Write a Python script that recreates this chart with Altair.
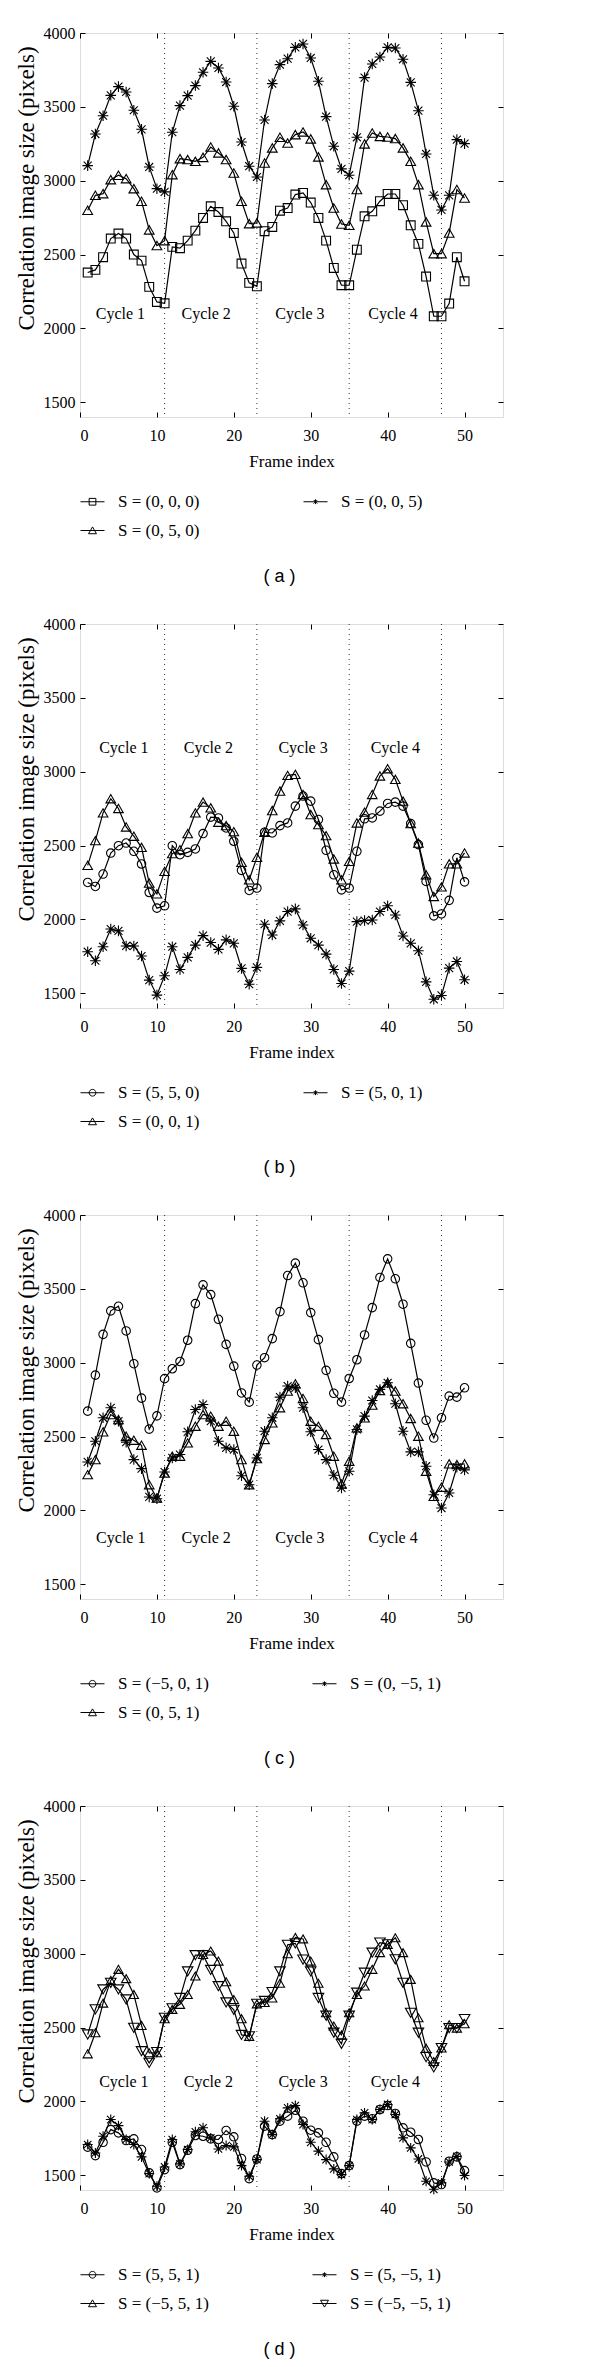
import altair as alt
import pandas as pd

SERIF = "Liberation Serif"
SANS = "Liberation Sans"

frames = list(range(1, 51))
boundaries = [11, 23, 35, 47]
cycle_labels = ["Cycle 1", "Cycle 2", "Cycle 3", "Cycle 4"]
x_ticks = [0, 10, 20, 30, 40, 50]
y_ticks = [1500, 2000, 2500, 3000, 3500, 4000]

# ---------------- panel (a) ----------------
a_s000 = [2378, 2396, 2482, 2608, 2642, 2608, 2500, 2459, 2281, 2179,
          2170, 2552, 2543, 2594, 2662, 2748, 2827, 2788, 2725, 2646,
          2439, 2308, 2285, 2658, 2687, 2797, 2815, 2906, 2917, 2852,
          2748, 2594, 2409, 2292, 2292, 2533, 2759, 2793, 2861, 2910,
          2910, 2834, 2698, 2572, 2351, 2082, 2082, 2168, 2482, 2319]
a_s050 = [2800, 2901, 2912, 3007, 3037, 3014, 2946, 2861, 2667, 2561,
          2594, 3041, 3149, 3143, 3131, 3158, 3228, 3188, 3143, 3052,
          2861, 2709, 2714, 3120, 3222, 3294, 3255, 3312, 3330, 3283,
          3161, 2973, 2815, 2707, 2698, 2940, 3249, 3323, 3300, 3296,
          3285, 3222, 3131, 2973, 2721, 2506, 2506, 2646, 2940, 2883]
a_s005 = [3102, 3316, 3440, 3578, 3637, 3601, 3477, 3348, 3093, 2946,
          2924, 3328, 3508, 3576, 3644, 3734, 3808, 3763, 3668, 3504,
          3262, 3098, 3025, 3411, 3657, 3786, 3826, 3903, 3926, 3831,
          3673, 3434, 3233, 3080, 3037, 3294, 3698, 3790, 3838, 3903,
          3898, 3822, 3666, 3474, 3181, 2901, 2802, 2901, 3278, 3251]
a_cycle_x = [5.25, 16.4, 28.6, 40.7]
a_cycle_y = 2100

# ---------------- panel (b) ----------------
b_s550 = [2250, 2223, 2307, 2449, 2499, 2517, 2461, 2375, 2182, 2076,
          2092, 2499, 2438, 2454, 2477, 2581, 2692, 2687, 2619, 2529,
          2332, 2196, 2212, 2590, 2585, 2635, 2653, 2767, 2835, 2801,
          2676, 2468, 2302, 2200, 2212, 2461, 2681, 2687, 2733, 2785,
          2794, 2767, 2649, 2506, 2257, 2024, 2037, 2129, 2417, 2254]
b_s001 = [2366, 2533, 2721, 2817, 2751, 2626, 2563, 2488, 2246, 2173,
          2325, 2445, 2472, 2581, 2721, 2794, 2755, 2658, 2635, 2594,
          2386, 2268, 2420, 2590, 2737, 2869, 2975, 2982, 2846, 2710,
          2642, 2567, 2409, 2268, 2393, 2653, 2726, 2846, 2971, 3020,
          2948, 2801, 2649, 2517, 2302, 2155, 2220, 2376, 2376, 2450]
b_s501 = [1781, 1720, 1815, 1935, 1922, 1820, 1820, 1752, 1589, 1487,
          1618, 1815, 1661, 1743, 1826, 1890, 1843, 1797, 1861, 1838,
          1668, 1561, 1675, 1967, 1894, 1990, 2053, 2071, 1962, 1872,
          1826, 1765, 1661, 1566, 1650, 1985, 1992, 1996, 2053, 2092,
          2030, 1888, 1838, 1788, 1577, 1459, 1485, 1670, 1715, 1591]
b_cycle_x = [5.7, 16.7, 29.0, 41.0]
b_cycle_y = 3163

# ---------------- panel (c) ----------------
c_sm501 = [2672, 2916, 3192, 3351, 3382, 3215, 2993, 2760, 2550, 2640,
           2892, 2959, 3008, 3152, 3400, 3527, 3461, 3294, 3124, 2977,
           2795, 2733, 2984, 3034, 3163, 3346, 3590, 3674, 3541, 3339,
           3156, 2948, 2793, 2733, 2893, 3020, 3188, 3373, 3577, 3703,
           3568, 3396, 3131, 2862, 2610, 2490, 2627, 2774, 2767, 2830]
c_s051 = [2242, 2344, 2532, 2649, 2615, 2502, 2475, 2441, 2174, 2084,
          2253, 2367, 2367, 2457, 2570, 2649, 2638, 2570, 2604, 2536,
          2344, 2174, 2351, 2480, 2593, 2695, 2808, 2857, 2758, 2604,
          2570, 2514, 2367, 2179, 2333, 2559, 2627, 2713, 2812, 2864,
          2808, 2722, 2622, 2502, 2265, 2095, 2157, 2315, 2310, 2315]
c_s0m51 = [2328, 2468, 2627, 2695, 2604, 2462, 2344, 2283, 2091, 2079,
           2260, 2355, 2378, 2532, 2683, 2717, 2604, 2468, 2423, 2412,
           2235, 2174, 2355, 2536, 2627, 2767, 2842, 2830, 2695, 2532,
           2412, 2344, 2238, 2152, 2265, 2548, 2638, 2744, 2819, 2864,
           2722, 2536, 2396, 2396, 2299, 2106, 2016, 2118, 2292, 2274]
c_cycle_x = [5.3, 16.4, 28.6, 40.7]
c_cycle_y = 1815

# ---------------- panel (d) ----------------
d_s551 = [1690, 1633, 1723, 1809, 1787, 1735, 1746, 1674, 1516, 1414,
          1538, 1723, 1572, 1669, 1769, 1764, 1746, 1742, 1803, 1760,
          1613, 1477, 1610, 1832, 1775, 1866, 1900, 1940, 1866, 1805,
          1787, 1723, 1624, 1511, 1565, 1866, 1900, 1882, 1945, 1972,
          1918, 1821, 1791, 1742, 1590, 1448, 1437, 1595, 1624, 1531]
d_s5m51 = [1708, 1651, 1764, 1877, 1836, 1742, 1708, 1624, 1511, 1425,
           1556, 1742, 1577, 1674, 1794, 1821, 1753, 1678, 1701, 1692,
           1565, 1493, 1606, 1866, 1775, 1882, 1956, 1972, 1843, 1723,
           1663, 1606, 1543, 1504, 1565, 1877, 1922, 1877, 1945, 1979,
           1911, 1753, 1685, 1610, 1459, 1405, 1448, 1590, 1628, 1498]
d_sm551 = [2322, 2465, 2665, 2819, 2894, 2831, 2724, 2514, 2329, 2329,
           2560, 2623, 2657, 2724, 2849, 2995, 3018, 2950, 2810, 2690,
           2560, 2440, 2660, 2670, 2700, 2800, 3000, 3110, 3100, 2950,
           2800, 2600, 2510, 2450, 2600, 2724, 2781, 2894, 3007, 3063,
           3108, 3007, 2826, 2566, 2360, 2270, 2361, 2519, 2496, 2526]
d_sm5m51 = [2453, 2623, 2758, 2803, 2758, 2690, 2498, 2340, 2261, 2334,
            2566, 2630, 2700, 2880, 2990, 2990, 2890, 2780, 2670, 2620,
            2450, 2440, 2660, 2680, 2740, 2880, 3060, 3070, 2960, 2880,
            2700, 2580, 2465, 2390, 2580, 2736, 2871, 3007, 3075, 3063,
            2962, 2803, 2600, 2465, 2300, 2230, 2361, 2496, 2496, 2557]
d_cycle_x = [5.7, 16.7, 29.0, 41.0]
d_cycle_y = 2132

# ---------------- marker styles ----------------
STAR = "M-1,0L1,0M0,-1L0,1M-0.75,-0.75L0.75,0.75M-0.75,0.75L0.75,-0.75"
DATA_SHAPE = {"square": "square", "tri": "triangle-up", "tridown": "triangle-down",
              "circle": "circle", "star": STAR}
DATA_SIZE = {"square": 78, "tri": 112, "tridown": 112, "circle": 72, "star": 64}
DATA_SW = {"square": 1.1, "tri": 1.1, "tridown": 1.1, "circle": 1.1, "star": 1.7}
LEG_SHAPE = {
    "square": "M-1,0H1M-0.28,-0.28H0.28V0.28H-0.28Z",
    "tri": "M-1,0H1M0,-0.3L0.33,0.27L-0.33,0.27Z",
    "tridown": "M-1,0H1M0,0.3L0.33,-0.27L-0.33,-0.27Z",
    "circle": "M-1,0H1M0.28,0A0.28,0.28,0,1,1,-0.28,0A0.28,0.28,0,1,1,0.28,0Z",
    "star": "M-1,0H1M0,-0.2V0.2M-0.15,-0.15L0.15,0.15M-0.15,0.15L0.15,-0.15",
}

INWARD = {"expr": "-5"}
XS = alt.Scale(domain=[0, 55], nice=False, zero=False)
YS = alt.Scale(domain=[1400, 4000], nice=False, zero=False)


def axis(orient, **kw):
    base = dict(orient=orient, grid=False, domain=False, tickSize=INWARD,
                tickColor="black", tickWidth=1, labelFont=SERIF, labelFontSize=16,
                labelColor="black", titleFont=SERIF, titleColor="black",
                titleFontWeight="normal")
    base.update(kw)
    return alt.Axis(**base)


AX_BOTTOM = axis("bottom", values=x_ticks, labelPadding=15, title="Frame index",
                 titleFontSize=17, titlePadding=10, format="d")
AX_LEFT = axis("left", values=y_ticks, labelPadding=10,
               title="Correlation image size (pixels)", titleFontSize=23,
               titlePadding=5, titleY=155, format="d")
AX_TOP = axis("top", values=x_ticks, labels=False, title=None)
AX_RIGHT = axis("right", values=y_ticks, labels=False, title=None)


def panel(series, cyc_x, cyc_y, caption):
    rows = []
    for label, vals, kind in series:
        for f, v in zip(frames, vals):
            rows.append({"frame": f, "value": v, "series": label})
    df = pd.DataFrame(rows)
    order = [s[0] for s in series]
    kinds = [s[2] for s in series]

    rules = alt.Chart(pd.DataFrame({"b": boundaries})).mark_rule(
        color="#333333", strokeWidth=1, strokeDash=[1, 4]
    ).encode(x=alt.X("b:Q", scale=XS, axis=AX_TOP))

    lines = alt.Chart(df).mark_line(color="black", strokeWidth=1.2).encode(
        x=alt.X("frame:Q", scale=XS, axis=AX_BOTTOM),
        y=alt.Y("value:Q", scale=YS, axis=AX_LEFT),
        detail="series:N",
    )

    points = alt.Chart(df).mark_point(filled=False, color="black", opacity=1).encode(
        x=alt.X("frame:Q", scale=XS, axis=None),
        y=alt.Y("value:Q", scale=YS, axis=None),
        shape=alt.Shape("series:N", legend=None,
                        scale=alt.Scale(domain=order, range=[DATA_SHAPE[k] for k in kinds])),
        size=alt.Size("series:N", legend=None,
                      scale=alt.Scale(domain=order, range=[DATA_SIZE[k] for k in kinds])),
        strokeWidth=alt.StrokeWidth("series:N", legend=None,
                                    scale=alt.Scale(domain=order, range=[DATA_SW[k] for k in kinds])),
    )

    cyc = pd.DataFrame({"cx": cyc_x, "cy": [cyc_y] * 4, "label": cycle_labels})
    texts = alt.Chart(cyc).mark_text(font=SERIF, fontSize=16, color="black",
                                     baseline="middle", align="center").encode(
        x=alt.X("cx:Q", scale=XS, axis=None),
        y=alt.Y("cy:Q", scale=YS, axis=AX_RIGHT),
        text="label:N",
    )

    legend_layer = alt.Chart(df).transform_filter("false").mark_point(
        filled=False, color="black", opacity=1, strokeWidth=1
    ).encode(
        shape=alt.Shape("series:N",
                        scale=alt.Scale(domain=order, range=[LEG_SHAPE[k] for k in kinds]),
                        legend=alt.Legend(title=None, orient="none", legendX=0, legendY=456,
                                          columns=2, columnPadding=101, rowPadding=8,
                                          symbolSize=576, symbolStrokeWidth=1,
                                          symbolStrokeColor="black",
                                          symbolFillColor="transparent",
                                          labelFont=SERIF, labelFontSize=17,
                                          labelColor="black", labelOffset=13,
                                          padding=0, labelLimit=300)),
    )

    return alt.layer(rules, lines, points, texts, legend_layer).resolve_scale(
        shape="independent", size="independent", strokeWidth="independent"
    ).resolve_axis(x="independent", y="independent").properties(
        width=423, height=384,
        title=alt.TitleParams(caption, orient="bottom", font=SANS, fontSize=18,
                              fontWeight="normal", color="black", offset=29,
                              anchor="middle", frame="group", dx=-12),
    )


# legend entries are listed column by column (first column, then second)
pa = panel([("S = (0, 0, 0)", a_s000, "square"),
            ("S = (0, 5, 0)", a_s050, "tri"),
            ("S = (0, 0, 5)", a_s005, "star")], a_cycle_x, a_cycle_y, "( a )")
pb = panel([("S = (5, 5, 0)", b_s550, "circle"),
            ("S = (0, 0, 1)", b_s001, "tri"),
            ("S = (5, 0, 1)", b_s501, "star")], b_cycle_x, b_cycle_y, "( b )")
pc = panel([("S = (\u22125, 0, 1)", c_sm501, "circle"),
            ("S = (0, 5, 1)", c_s051, "tri"),
            ("S = (0, \u22125, 1)", c_s0m51, "star")], c_cycle_x, c_cycle_y, "( c )")
pd_ = panel([("S = (5, 5, 1)", d_s551, "circle"),
             ("S = (\u22125, 5, 1)", d_sm551, "tri"),
             ("S = (5, \u22125, 1)", d_s5m51, "star"),
             ("S = (\u22125, \u22125, 1)", d_sm5m51, "tridown")], d_cycle_x, d_cycle_y, "( d )")

chart = alt.vconcat(pa, pb, pc, pd_, spacing=28).resolve_scale(
    shape="independent", size="independent", strokeWidth="independent"
).resolve_legend(shape="independent").properties(
    padding={"left": 6, "top": 16, "right": 5, "bottom": 5}
).configure_view(stroke="black", strokeWidth=1).configure(background="white")

chart.save("out.html", embed_options={"renderer": "svg", "actions": False})
